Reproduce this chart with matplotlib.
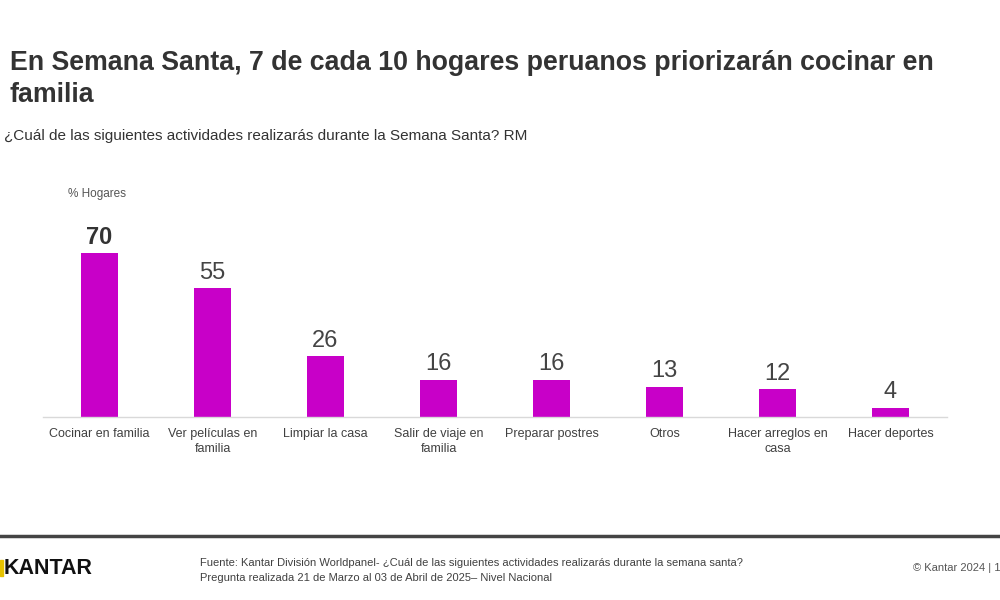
import numpy as np
import matplotlib.pyplot as plt

plt.rcParams['font.family'] = ['Liberation Sans', 'DejaVu Sans']

# data
categorias = ['Cocinar en familia', 'Ver películas en\nfamilia', 'Limpiar la casa',
              'Salir de viaje en\nfamilia', 'Preparar postres', 'Otros',
              'Hacer arreglos en\ncasa', 'Hacer deportes']
hogares = [70, 55, 26, 16, 16, 13, 12, 4]

color_barra = '#C800C8'

fig = plt.figure(figsize=(10, 6), dpi=100)
ax = fig.add_axes([0.043, 0.305, 0.904, 0.39])

x = np.arange(len(categorias))
ax.bar(x, hogares, width=0.32, color=color_barra, zorder=2)
for i, v in enumerate(hogares):
    ax.text(i, v + 1.8, str(v), ha='center', va='bottom', fontsize=17,
            color='#333333' if i == 0 else '#444444',
            fontweight='bold' if i == 0 else 'normal')

ax.set_xlim(-0.5, len(categorias) - 0.5)
ax.set_ylim(0, 100)
ax.set_xticks(x)
ax.set_xticklabels(categorias, fontsize=9, color='#404040', linespacing=1.3)
ax.tick_params(axis='x', length=0, pad=8)
ax.set_yticks([])
for s in ['top', 'right', 'left']:
    ax.spines[s].set_visible(False)
ax.spines['bottom'].set_color('#d9d9d9')
ax.spines['bottom'].set_linewidth(1)

# titles
fig.text(0.01, 0.869, 'En Semana Santa, 7 de cada 10 hogares peruanos priorizarán cocinar en\nfamilia',
         fontsize=19.3, fontweight='bold', color='#333333', va='center', linespacing=1.3)
fig.text(0.004, 0.773, '¿Cuál de las siguientes actividades realizarás durante la Semana Santa? RM',
         fontsize=11, color='#333333', va='center')
fig.text(0.068, 0.677, '% Hogares', fontsize=8.5, color='#555555', va='center')

# footer
fig.add_artist(plt.Line2D([0, 1], [1 - 536 / 600, 1 - 536 / 600], color='#444444', lw=2.5))
fig.text(0.004, 1 - 568 / 600, 'KANTAR', fontsize=15.5, color='#111111', va='center',
         fontweight='bold')
fig.add_artist(plt.Rectangle((0, 1 - 576 / 600), 0.003, 16 / 600, color='#e6c200',
                             transform=fig.transFigure))
fig.text(0.2, 1 - 563 / 600,
         'Fuente: Kantar División Worldpanel- ¿Cuál de las siguientes actividades realizarás durante la semana santa?',
         fontsize=8, color='#404040', va='center')
fig.text(0.2, 1 - 578 / 600,
         'Pregunta realizada 21 de Marzo al 03 de Abril de 2025– Nivel Nacional',
         fontsize=8, color='#404040', va='center')
fig.text(0.913, 1 - 568 / 600, '© Kantar 2024 | 1', fontsize=8, color='#555555', va='center')

fig.savefig('out.png', dpi=100)
